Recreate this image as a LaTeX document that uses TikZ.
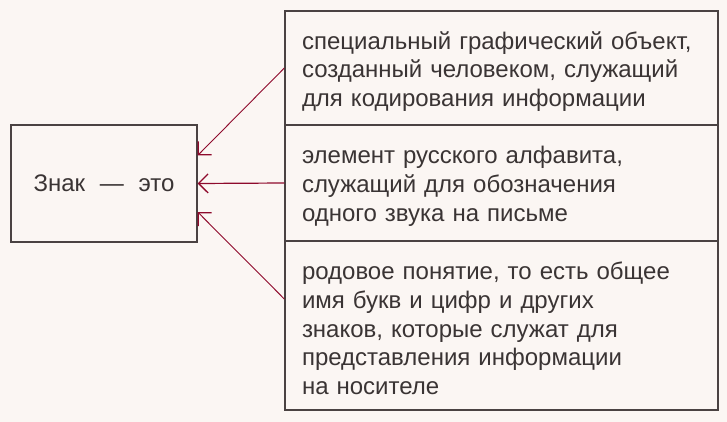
\documentclass[tikz,border=0pt]{standalone}
\usepackage{fontspec}
\setmainfont{Liberation Sans}[WordSpace=2.8]
\newfontfamily\znakfont{Liberation Sans}[WordSpace=2.2]
\usetikzlibrary{arrows.meta,calc}
\definecolor{paper}{HTML}{FBF6F3}
\definecolor{frame}{HTML}{4A4242}
\definecolor{ink}{HTML}{3A3434}
\definecolor{arrowred}{HTML}{8E0A2C}
\begin{document}
\begin{tikzpicture}[x=1pt,y=-1pt,
  box/.style={draw=frame, line width=1.3pt, rectangle, inner sep=0pt, text=ink},
  defbox/.style={box, minimum width=433pt},
  deftext/.style={inner sep=0pt, text=ink, text width=399pt, align=left,
     font=\fontsize{24}{28.8}\selectfont},
  link/.style={draw=arrowred, line width=0.9pt, -{Straight Barb[length=9.5pt,width=19pt,line width=1.3pt]}}]
\fill[paper] (0,0) rectangle (727,422);
\useasboundingbox (0,0) rectangle (727,422);
\node[box, minimum width=186pt, minimum height=117pt, font=\znakfont\fontsize{24}{28}\selectfont] (znak) at (104,183.5) {Знак — это};
\node[defbox, minimum height=114pt] (d1) at (501.5,68) {};
\node[defbox, minimum height=116pt] (d2) at (501.5,183) {};
\node[defbox, minimum height=169pt] (d3) at (501.5,325.5) {};
\node[deftext] (d1t) at ([yshift=-3.5pt]d1.center) {специальный графический объект,\\созданный человеком, служащий\\для кодирования информации};
\node[deftext] (d2t) at ([yshift=-3.5pt]d2.center) {элемент русского алфавита,\\служащий для обозначения\\одного звука на письме};
\node[deftext] (d3t) at ([yshift=-3pt]d3.center) {родовое понятие, то есть общее\\имя букв и цифр и других\\знаков, которые служат для\\представления информации\\на носителе};
\coordinate (t1) at ($(znak.east)+(0,-28)$);
\coordinate (t3) at ($(znak.east)+(0,28.5)$);
\coordinate (s3) at ($(d3.west)+(0,-26.5)$);
\draw[link] (d1.west) -- (t1);
\draw[link, line width=1.2pt] (d2.west) -- (znak.east);
\draw[link] (s3) -- (t3);
\end{tikzpicture}
\end{document}
